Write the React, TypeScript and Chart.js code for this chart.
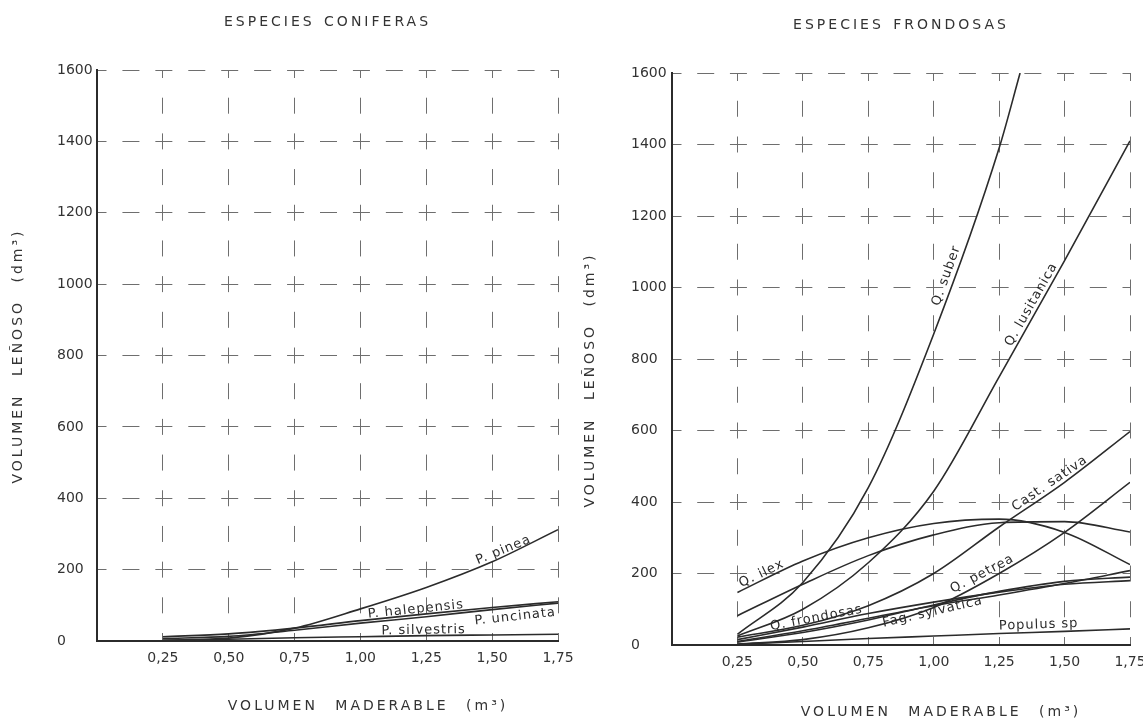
import React, { useEffect, useRef } from 'react';
import { Chart, registerables } from 'chart.js';

Chart.register(...registerables);

const FONT = "'DejaVu Sans', sans-serif";
const INK = '#2b2b2b';
const GRID = '#6e6e6e';

// ---- axis tick labels ----
const X_TICK_LABELS = ['', '0,25', '0,50', '0,75', '1,00', '1,25', '1,50', '1,75'];
const Y_TICK_LABELS = ['0', '200', '400', '600', '800', '1000', '1200', '1400', '1600'];

// ---- Especies coniferas ----
const CON_X = [0.25, 0.5, 0.75, 1.0, 1.25, 1.5, 1.75];
const P_PINEA = [2, 8, 36, 90, 150, 222, 312];
const P_HALEPENSIS = [12, 20, 36, 57, 76, 94, 110];
const P_UNCINATA = [7, 13, 30, 50, 68, 88, 106];
const P_SILVESTRIS = [2, 5, 9, 12, 15, 17, 19];

// ---- Especies frondosas ----
const FRO_X = [0.25, 0.5, 0.75, 1.0, 1.25, 1.5, 1.75];
const Q_SUBER_X = [0.25, 0.5, 0.75, 1.0, 1.25, 1.33];
const Q_SUBER = [30, 175, 440, 870, 1390, 1600];
const Q_LUSITANICA = [25, 100, 230, 430, 750, 1075, 1410];
const Q_ILEX = [147, 235, 300, 340, 352, 315, 225];
const SIN_ROTULO_A = [82, 170, 250, 308, 342, 345, 316];
const CAST_SATIVA = [22, 55, 110, 200, 330, 455, 597];
const Q_PETREA = [3, 15, 48, 105, 200, 315, 455];
const Q_FRONDOSAS = [15, 50, 88, 120, 148, 170, 180];
const FAG_SYLVATICA = [8, 35, 70, 112, 150, 178, 190];
const SIN_ROTULO_B = [10, 40, 75, 110, 140, 172, 208];
const POPULUS_SP = [2, 10, 18, 25, 32, 38, 45];

type Series = { name: string; xs: number[]; ys: number[] };

const CON_SERIES: Series[] = [
  { name: 'P. pinea', xs: CON_X, ys: P_PINEA },
  { name: 'P. halepensis', xs: CON_X, ys: P_HALEPENSIS },
  { name: 'P. uncinata', xs: CON_X, ys: P_UNCINATA },
  { name: 'P. silvestris', xs: CON_X, ys: P_SILVESTRIS },
];

const FRO_SERIES: Series[] = [
  { name: 'Q. suber', xs: Q_SUBER_X, ys: Q_SUBER },
  { name: 'Q. lusitanica', xs: FRO_X, ys: Q_LUSITANICA },
  { name: 'Q. ilex', xs: FRO_X, ys: Q_ILEX },
  { name: 'Sin rótulo A', xs: FRO_X, ys: SIN_ROTULO_A },
  { name: 'Cast. sativa', xs: FRO_X, ys: CAST_SATIVA },
  { name: 'Q. petrea', xs: FRO_X, ys: Q_PETREA },
  { name: 'Q. frondosas', xs: FRO_X, ys: Q_FRONDOSAS },
  { name: 'Fag. sylvatica', xs: FRO_X, ys: FAG_SYLVATICA },
  { name: 'Sin rótulo B', xs: FRO_X, ys: SIN_ROTULO_B },
  { name: 'Populus sp', xs: FRO_X, ys: POPULUS_SP },
];

// curve labels: anchored on a series at a given x (value units), offset in px
type CurveLabel = { text: string; series: string; x: number; dy: number };

const CON_LABELS: CurveLabel[] = [
  { text: 'P. pinea', series: 'P. pinea', x: 1.45, dy: 3 },
  { text: 'P. halepensis', series: 'P. halepensis', x: 1.03, dy: 2 },
  { text: 'P. silvestris', series: 'P. silvestris', x: 1.08, dy: 2 },
  { text: 'P. uncinata', series: 'P. uncinata', x: 1.43, dy: -13 },
];

const FRO_LABELS: CurveLabel[] = [
  { text: 'Q. suber', series: 'Q. suber', x: 1.035, dy: 4 },
  { text: 'Q. lusitanica', series: 'Q. lusitanica', x: 1.31, dy: 4 },
  { text: 'Q. ilex', series: 'Q. ilex', x: 0.27, dy: 3 },
  { text: 'Cast. sativa', series: 'Cast. sativa', x: 1.32, dy: 4 },
  { text: 'Q. petrea', series: 'Q. petrea', x: 1.08, dy: 4 },
  { text: 'Q. frondosas', series: 'Q. frondosas', x: 0.38, dy: 3 },
  { text: 'Fag. sylvatica', series: 'Fag. sylvatica', x: 0.8, dy: -10 },
  { text: 'Populus sp', series: 'Populus sp', x: 1.25, dy: 4 },
];

const X_AXIS_TITLE = 'VOLUMEN MADERABLE (m³)';
const Y_AXIS_TITLE = 'VOLUMEN LEÑOSO (dm³)';

function interp(s: Series, x: number): number {
  const { xs, ys } = s;
  if (x <= xs[0]) return ys[0];
  for (let i = 1; i < xs.length; i++) {
    if (x <= xs[i]) {
      const t = (x - xs[i - 1]) / (xs[i] - xs[i - 1]);
      return ys[i - 1] + t * (ys[i] - ys[i - 1]);
    }
  }
  return ys[ys.length - 1];
}

// wide lettering for the chart title (drawn before datasets), normal for tick labels (drawn after)
const spacingPlugin = {
  id: 'spacing',
  beforeDraw(chart: any) {
    const ctx = chart.ctx as any;
    ctx.letterSpacing = '3px';
    ctx.wordSpacing = '2px';
  },
  beforeDatasetsDraw(chart: any) {
    const ctx = chart.ctx as any;
    ctx.letterSpacing = '0px';
    ctx.wordSpacing = '0px';
  },
};

const curveLabelPlugin = {
  id: 'curveLabels',
  afterDatasetsDraw(chart: any, _args: any, opts: any) {
    const items: CurveLabel[] = opts.items || [];
    const series: Series[] = opts.series || [];
    const xs = chart.scales.x;
    const ys = chart.scales.y;
    const ctx = chart.ctx as any;
    ctx.save();
    ctx.letterSpacing = '1px';
    ctx.wordSpacing = '0px';
    ctx.font = `13px ${FONT}`;
    ctx.fillStyle = INK;
    ctx.textAlign = 'left';
    ctx.textBaseline = 'alphabetic';
    for (const it of items) {
      const s = series.find((q) => q.name === it.series);
      if (!s) continue;
      const xEnd = s.xs[s.xs.length - 1];
      const xa = Math.min(it.x, xEnd - 0.06);
      const xb = xa + 0.06;
      const p0x = xs.getPixelForValue(xa);
      const p0y = ys.getPixelForValue(interp(s, xa));
      const p1x = xs.getPixelForValue(xb);
      const p1y = ys.getPixelForValue(interp(s, xb));
      const ang = Math.atan2(p1y - p0y, p1x - p0x);
      const px = xs.getPixelForValue(it.x);
      const py = ys.getPixelForValue(interp(s, it.x));
      ctx.save();
      ctx.translate(px, py);
      ctx.rotate(ang);
      ctx.fillText(it.text, 0, -it.dy);
      ctx.restore();
    }
    ctx.restore();
    ctx.letterSpacing = '0px';
    ctx.wordSpacing = '0px';
  },
};

// axis titles in spaced lettering
const axisTitlePlugin = {
  id: 'axisTitles',
  afterDraw(chart: any, _args: any, opts: any) {
    const ctx = chart.ctx as any;
    ctx.save();
    ctx.letterSpacing = '3px';
    ctx.wordSpacing = '10px';
    ctx.font = `14px ${FONT}`;
    ctx.fillStyle = '#333';
    ctx.textAlign = 'center';
    ctx.textBaseline = 'middle';
    ctx.fillText(opts.xText, opts.xPos[0], opts.xPos[1]);
    ctx.translate(opts.yPos[0], opts.yPos[1]);
    ctx.rotate(-Math.PI / 2);
    ctx.fillText(opts.yText, 0, 0);
    ctx.restore();
  },
};

type Layout = {
  title: string;
  titlePad: { top: number; bottom: number };
  padLeft: number;
  yAxisWidth: number;
  xAxisHeight: number;
  padRight: number;
  xTitlePos: [number, number];
  yTitlePos: [number, number];
};

function buildConfig(series: Series[], labels: CurveLabel[], L: Layout): any {
  const vDash = (c: any) => {
    const a = c.chart.chartArea;
    const period = a ? (a.bottom - a.top) / 16 : 35.7;
    return [16, period - 16];
  };
  const hDash = (c: any) => {
    const a = c.chart.chartArea;
    const period = a ? (a.right - a.left) / 14 : 32.9;
    return [17, period - 17];
  };
  const titleFont = { family: FONT, size: 14, weight: 'normal' as const };
  const tickFont = { family: FONT, size: 14 };
  return {
    type: 'line',
    data: {
      datasets: series.map((s) => ({
        label: s.name,
        data: s.xs.map((x, i) => ({ x, y: s.ys[i] })),
        borderColor: INK,
        borderWidth: 1.6,
        pointRadius: 0,
        fill: false,
        cubicInterpolationMode: 'monotone',
      })),
    },
    options: {
      responsive: false,
      maintainAspectRatio: false,
      animation: false,
      devicePixelRatio: 1,
      events: [],
      layout: { padding: { left: L.padLeft, top: 0, right: L.padRight, bottom: 0 } },
      scales: {
        x: {
          type: 'linear',
          min: 0,
          max: 1.75,
          afterBuildTicks: (s: any) => {
            s.ticks = [0, 0.25, 0.5, 0.75, 1, 1.25, 1.5, 1.75].map((v) => ({ value: v }));
          },
          ticks: {
            z: 1,
            autoSkip: false,
            maxRotation: 0,
            padding: 9,
            color: '#333',
            font: tickFont,
            callback: (_v: any, i: number) => X_TICK_LABELS[i],
          },
          grid: { color: GRID, lineWidth: 1, drawTicks: false },
          border: {
            display: true,
            color: INK,
            width: 2,
            dash: vDash,
            dashOffset: 8,
          },
          title: { display: false },
          afterFit: (s: any) => {
            s.height = L.xAxisHeight;
            s.paddingLeft = 0;
            s.paddingRight = 0;
          },
        },
        y: {
          type: 'linear',
          position: 'left',
          min: 0,
          max: 1600,
          ticks: {
            z: 1,
            stepSize: 200,
            crossAlign: 'far',
            padding: 0,
            color: '#333',
            font: tickFont,
            callback: (_v: any, i: number) => Y_TICK_LABELS[i],
          },
          grid: { color: GRID, lineWidth: 1, drawTicks: false },
          border: {
            display: true,
            color: INK,
            width: 2,
            dash: hDash,
            dashOffset: 8.5,
          },
          title: { display: false },
          afterFit: (s: any) => {
            s.width = L.yAxisWidth;
            s.paddingTop = 0;
            s.paddingBottom = 0;
          },
        },
      },
      plugins: {
        legend: { display: false },
        tooltip: { enabled: false },
        title: {
          display: true,
          text: L.title,
          fullSize: false,
          color: '#333',
          font: titleFont,
          padding: L.titlePad,
        },
        curveLabels: { items: labels, series },
        axisTitles: { xText: X_AXIS_TITLE, yText: Y_AXIS_TITLE, xPos: L.xTitlePos, yPos: L.yTitlePos },
      },
    },
    plugins: [spacingPlugin, curveLabelPlugin, axisTitlePlugin],
  };
}

const LEFT_LAYOUT: Layout = {
  title: 'ESPECIES CONIFERAS',
  titlePad: { top: 13.6, bottom: 39.6 },
  padLeft: 57,
  yAxisWidth: 40,
  xAxisHeight: 84,
  padRight: 42,
  xTitlePos: [368, 706],
  yTitlePos: [18, 356],
};

const RIGHT_LAYOUT: Layout = {
  title: 'ESPECIES FRONDOSAS',
  titlePad: { top: 16.6, bottom: 39.6 },
  padLeft: 60,
  yAxisWidth: 41,
  xAxisHeight: 80,
  padRight: 13,
  xTitlePos: [370, 712],
  yTitlePos: [19, 380],
};

function ChartCanvas(props: { series: Series[]; labels: CurveLabel[]; layout: Layout; left: number; width: number }) {
  const ref = useRef<HTMLCanvasElement | null>(null);
  useEffect(() => {
    if (!ref.current) return;
    const chart = new Chart(ref.current, buildConfig(props.series, props.labels, props.layout));
    return () => chart.destroy();
  }, []);
  return (
    <canvas
      ref={ref}
      width={props.width}
      height={725}
      style={{ position: 'absolute', left: props.left, top: 0, width: props.width, height: 725 }}
    />
  );
}

export default function App() {
  return (
    <div style={{ position: 'fixed', left: 0, top: 0, width: 1143, height: 725, background: '#ffffff', overflow: 'hidden' }}>
      <ChartCanvas series={CON_SERIES} labels={CON_LABELS} layout={LEFT_LAYOUT} left={0} width={600} />
      <ChartCanvas series={FRO_SERIES} labels={FRO_LABELS} layout={RIGHT_LAYOUT} left={571} width={572} />
    </div>
  );
}
